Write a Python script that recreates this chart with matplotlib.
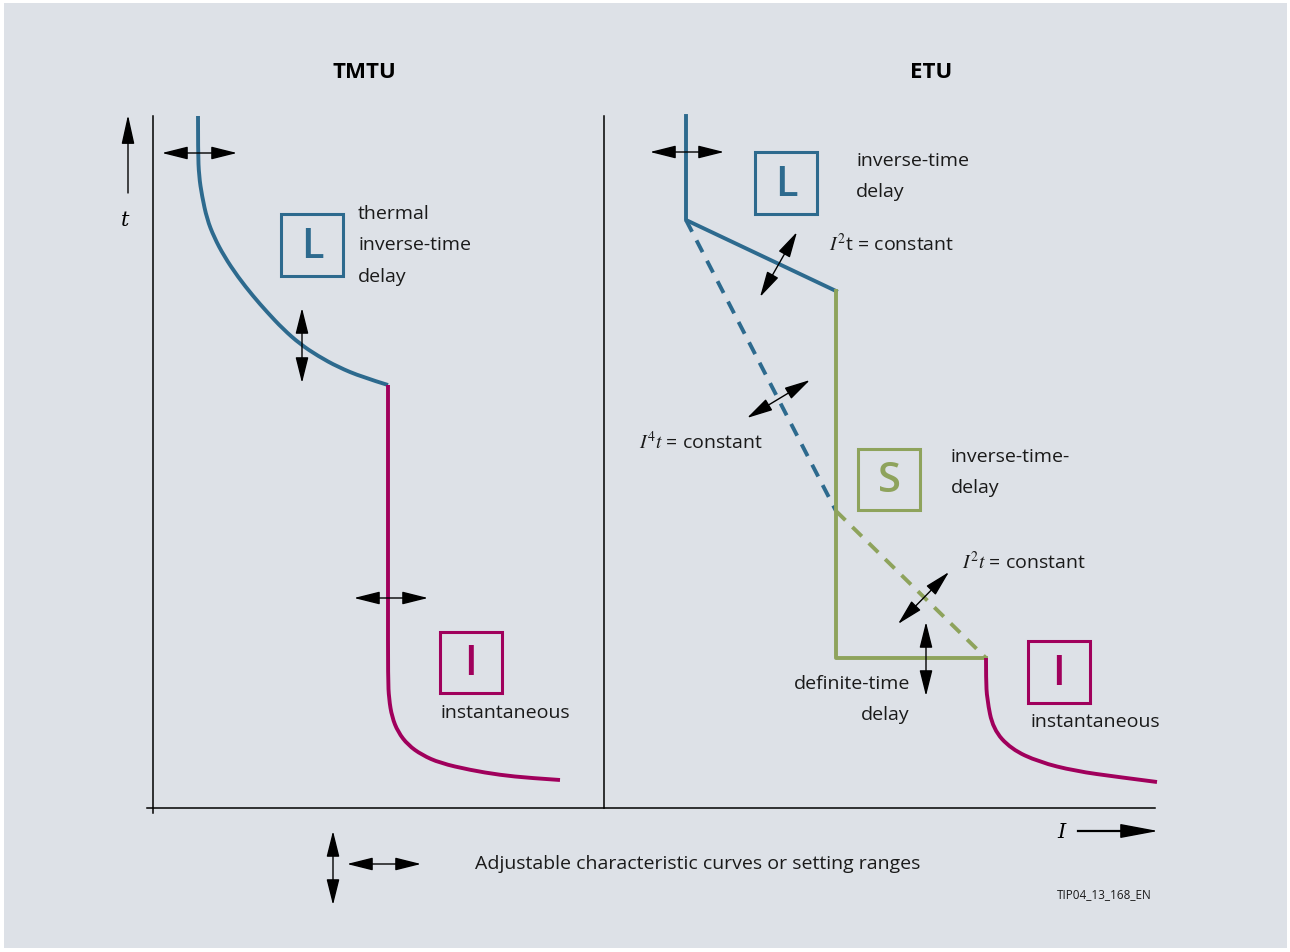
import matplotlib.pyplot as plt
from matplotlib.patches import Rectangle, FancyArrowPatch, PathPatch
from matplotlib.path import Path

plt.rcParams['font.family'] = ['Open Sans', 'DejaVu Sans']
plt.rcParams['mathtext.fontset'] = 'stix'

BLUE = '#2d6a8e'
MAGENTA = '#a0005c'
GREEN = '#8ea35c'
BG = '#dde1e7'
INK = '#1a1a1a'

# --- curve data (diagram units: I to the right, t downwards) ---
tmtu_L_I = [198, 198, 199, 202, 207, 214, 224, 238, 253, 267, 283, 300, 318, 338, 362, 388]
tmtu_L_t = [117, 153, 177, 197, 220, 238, 257, 278, 297, 313, 330, 345, 357, 368, 378, 386]
tmtu_I_I = [388, 388, 388, 389, 392, 398, 408, 422, 440, 470, 500, 530, 560]
tmtu_I_t = [386, 600, 680, 700, 718, 733, 746, 756, 764, 771, 776, 779, 781]

etu_L_I = [686, 686, 836]
etu_L_t = [117, 221, 292]
etu_S_I = [836, 836, 986]
etu_S_t = [292, 659, 659]
etu_I4t_I = [686, 836]
etu_I4t_t = [221, 512]
etu_I2t_I = [836, 986]
etu_I2t_t = [512, 659]
etu_I_I = [986, 986, 987, 993, 1011, 1039, 1075, 1118, 1157]
etu_I_t = [659, 680, 700, 730, 750, 763, 772, 778, 783]

# adjustment arrows (start I, start t, end I, end t)
adjust = [(162, 154, 237, 154), (302, 309, 302, 384), (354, 599, 428, 599),
          (650, 153, 724, 153), (760, 298, 797, 233), (747, 419, 810, 381),
          (898, 625, 949, 573), (926, 623, 926, 697),
          (333, 832, 333, 906), (347, 865, 421, 865)]


def dbl_arrow(ax, x0, y0, x1, y1, style='<|-|>', hl=1.6, hw=0.4):
    ax.add_patch(FancyArrowPatch((x0, y0), (x1, y1),
                 arrowstyle=style + ',head_length=%s,head_width=%s' % (hl, hw),
                 mutation_scale=10, lw=1.0, color='black',
                 shrinkA=0, shrinkB=0, zorder=5))


def smooth_curve(ax, xs, ys, color):
    # quadratic b-spline through the traced points, drawn as a bezier path
    pts = list(zip(xs, ys))
    verts = [pts[0]]
    codes = [Path.MOVETO]
    for i in range(1, len(pts) - 1):
        mid = ((pts[i][0] + pts[i + 1][0]) / 2, (pts[i][1] + pts[i + 1][1]) / 2)
        if i == len(pts) - 2:
            mid = pts[-1]
        verts += [pts[i], mid]
        codes += [Path.CURVE3, Path.CURVE3]
    ax.add_patch(PathPatch(Path(verts, codes), fill=False, ec=color, lw=2.8,
                           capstyle='butt', zorder=3))


def letter_box(ax, x, y, w, h, letter, color):
    ax.add_patch(Rectangle((x, y), w, h, fill=False, ec=color, lw=2.2, zorder=4))
    ax.text(x + w / 2, y + h / 2 + 1, letter, color=color, fontsize=30,
            fontweight='semibold', ha='center', va='center', zorder=4)


fig = plt.figure(figsize=(12.9, 9.53), dpi=100)
fig.patch.set_facecolor('white')
ax = fig.add_axes([0, 0, 1, 1])
ax.set_xlim(0, 1290)
ax.set_ylim(953, 0)
ax.axis('off')

ax.add_patch(Rectangle((4, 4), 1283, 945, fc=BG, ec='none', zorder=0))

# axes frame
ax.plot([153, 153], [117, 814], color='black', lw=1.1)
ax.plot([147, 1155], [809, 809], color='black', lw=1.1)
ax.plot([604, 604], [117, 809], color='black', lw=1.1)
dbl_arrow(ax, 128, 194, 128, 116, style='-|>', hl=1.8, hw=0.4)
ax.text(125, 220, 't', fontsize=15, style='italic', family='DejaVu Serif',
        ha='center', va='center')
ax.plot([1078, 1130], [832, 832], color='black', lw=1.6)
dbl_arrow(ax, 1120, 832, 1158, 832, style='-|>', hl=2.4, hw=0.45)
ax.text(1061, 833, 'I', fontsize=15, style='italic', family='DejaVu Serif',
        ha='center', va='center')

# titles
ax.text(364, 73, 'TMTU', fontsize=16, fontweight='bold', ha='center', va='center')
ax.text(931, 73, 'ETU', fontsize=16, fontweight='bold', ha='center', va='center')

# curves
smooth_curve(ax, tmtu_L_I, tmtu_L_t, BLUE)
smooth_curve(ax, tmtu_I_I, tmtu_I_t, MAGENTA)
ax.plot(etu_I4t_I, etu_I4t_t, color=BLUE, lw=2.8, ls=(0, (3.4, 2.5)))
ax.plot(etu_I2t_I, etu_I2t_t, color=GREEN, lw=2.8, ls=(0, (3.4, 2.5)))
ax.plot(etu_L_I, etu_L_t, color=BLUE, lw=2.8)
ax.plot(etu_S_I, etu_S_t, color=GREEN, lw=2.8)
smooth_curve(ax, etu_I_I, etu_I_t, MAGENTA)

for a in adjust:
    dbl_arrow(ax, *a)

# letter boxes
letter_box(ax, 281, 215, 62, 62, 'L', BLUE)
letter_box(ax, 440, 633, 62, 61, 'I', MAGENTA)
letter_box(ax, 755, 153, 62, 62, 'L', BLUE)
letter_box(ax, 858, 450, 62, 61, 'S', GREEN)
letter_box(ax, 1028, 642, 62, 62, 'I', MAGENTA)

fs = 14
for txt, y in [('thermal', 214), ('inverse-time', 245), ('delay', 277)]:
    ax.text(358, y, txt, fontsize=fs, color=INK, va='center')
ax.text(441, 713, 'instantaneous', fontsize=fs, color=INK, va='center')

ax.text(856, 161, 'inverse-time', fontsize=fs, color=INK, va='center')
ax.text(856, 192, 'delay', fontsize=fs, color=INK, va='center')
ax.text(829, 244, r'$I^2$t = constant', fontsize=fs, color=INK, va='center')
ax.text(639, 442, r'$I^4t$ = constant', fontsize=fs, color=INK, va='center')
ax.text(951, 457, 'inverse-time-', fontsize=fs, color=INK, va='center')
ax.text(951, 488, 'delay', fontsize=fs, color=INK, va='center')
ax.text(962, 562, r'$I^2t$ = constant', fontsize=fs, color=INK, va='center')
ax.text(910, 684, 'definite-time', fontsize=fs, color=INK, va='center', ha='right')
ax.text(910, 715, 'delay', fontsize=fs, color=INK, va='center', ha='right')
ax.text(1031, 722, 'instantaneous', fontsize=fs, color=INK, va='center')

ax.text(475, 864, 'Adjustable characteristic curves or setting ranges',
        fontsize=fs, color=INK, va='center')
ax.text(1152, 895, 'TIP04_13_168_EN', fontsize=8.5, color=INK, va='center', ha='right')

fig.savefig('out.png', dpi=100, facecolor=fig.get_facecolor())
